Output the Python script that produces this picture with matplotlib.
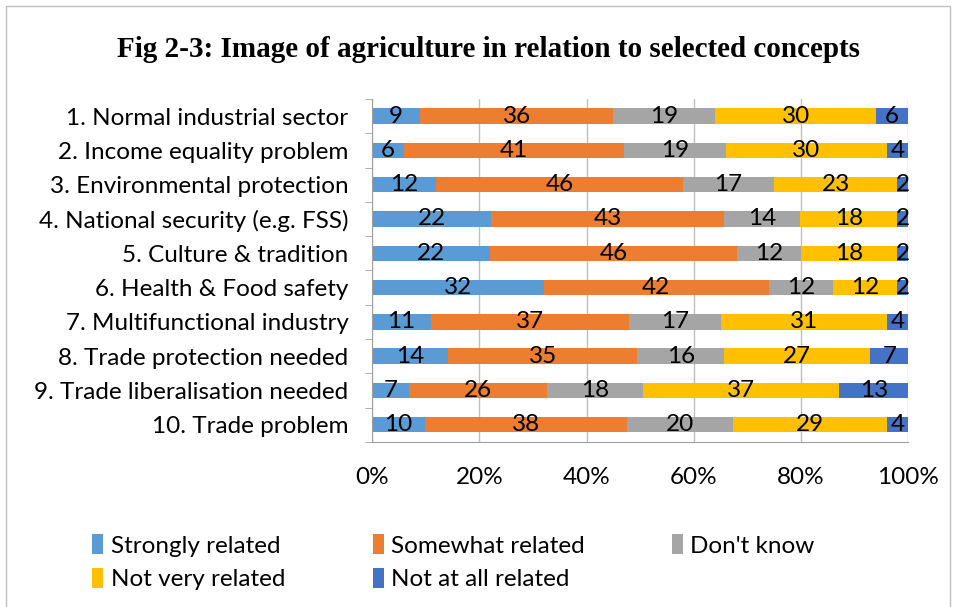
import numpy as np
import matplotlib.pyplot as plt
from matplotlib.patches import Rectangle

concepts = [
    '1. Normal industrial sector',
    '2. Income equality problem',
    '3. Environmental protection',
    '4. National security (e.g. FSS)',
    '5. Culture & tradition',
    '6. Health & Food safety',
    '7. Multifunctional industry',
    '8. Trade protection needed',
    '9. Trade liberalisation needed',
    '10. Trade problem',
]
strongly = [9, 6, 12, 22, 22, 32, 11, 14, 7, 10]
somewhat = [36, 41, 46, 43, 46, 42, 37, 35, 26, 38]
dont_know = [19, 19, 17, 14, 12, 12, 17, 16, 18, 20]
not_very = [30, 30, 23, 18, 18, 12, 31, 27, 37, 29]
not_at_all = [6, 4, 2, 2, 2, 2, 4, 7, 13, 4]

series_names = ['Strongly related', 'Somewhat related', "Don't know",
                'Not very related', 'Not at all related']
colors = ['#5B9BD5', '#ED7D31', '#A5A5A5', '#FFC000', '#4472C4']

vals = np.array([strongly, somewhat, dont_know, not_very, not_at_all], dtype=float)
shares = vals / vals.sum(axis=0) * 100

plt.rcParams['font.family'] = ['Lato', 'DejaVu Sans']
fs = 17.5

fig = plt.figure(figsize=(9.54, 6.07), dpi=100)
fig.patches.append(Rectangle((0.006, -0.01), 0.99, 1.0, transform=fig.transFigure,
                             fill=False, edgecolor='#BFBFBF', lw=1))
ax = fig.add_axes([0.39, 0.272, 0.562, 0.565])

y = np.arange(len(concepts))
left = np.zeros(len(concepts))
handles = []
for name, c, s, v in zip(series_names, colors, shares, vals):
    b = ax.barh(y, s, left=left, height=0.45, color=c, label=name, zorder=2)
    handles.append(b)
    for yi, l, w, lab in zip(y, left, s, v):
        ax.text(l + w / 2, yi, '%d' % lab, ha='center', va='center',
                fontsize=fs, color='black', zorder=3)
    left += s

ax.set_xlim(0, 100)
ax.set_ylim(len(concepts) - 0.5, -0.5)
ax.set_xticks(np.arange(0, 101, 20))
ax.set_xticklabels(['%d%%' % t for t in range(0, 101, 20)], fontsize=fs)
ax.set_yticks(y)
ax.set_yticklabels(concepts, fontsize=fs)
ax.set_yticks(np.arange(len(concepts) + 1) - 0.5, minor=True)
ax.tick_params(axis='y', which='major', length=0, pad=17)
ax.tick_params(axis='y', which='minor', length=5, color='#A0A0A0')
ax.tick_params(axis='x', length=0, pad=18)
ax.grid(axis='x', color='#BFBFBF', lw=1, zorder=0)
for side in ['top', 'right']:
    ax.spines[side].set_visible(False)
for side in ['left', 'bottom']:
    ax.spines[side].set_color('#A0A0A0')

fig.text(0.512, 0.918, 'Fig 2-3: Image of agriculture in relation to selected concepts',
         ha='center', va='center', fontsize=21, fontweight='bold',
         family=['Liberation Serif'])

# legend reads row by row: reorder for matplotlib's column-first filling
order = [0, 3, 1, 4, 2]
fig.legend(handles=[handles[i] for i in order],
           labels=[series_names[i] for i in order],
           loc='center left', bbox_to_anchor=(0.074, 0.074), ncol=3,
           frameon=False, fontsize=fs,
           handlelength=0.45, handleheight=0.9, handletextpad=0.3,
           columnspacing=3.6, labelspacing=0.45)

fig.savefig('out.png', dpi=100)
